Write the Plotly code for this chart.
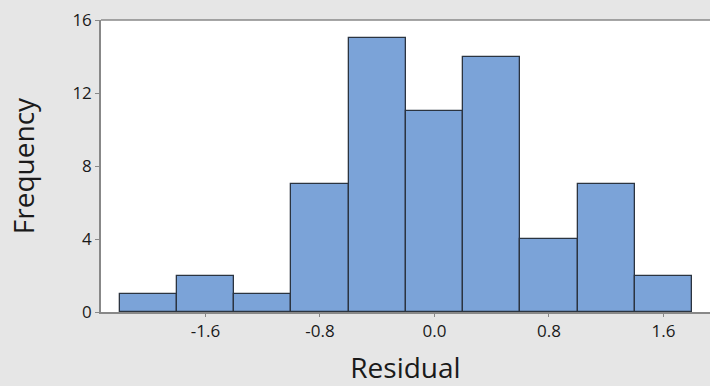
import plotly.graph_objects as go

bin_centers = [-2.0, -1.6, -1.2, -0.8, -0.4, 0.0, 0.4, 0.8, 1.2, 1.6]
counts = [1, 2, 1, 7, 15, 11, 14, 4, 7, 2]
x_tick_vals = [-1.6, -0.8, 0.0, 0.8, 1.6]
x_tick_text = ["-1.6", "-0.8", "0.0", "0.8", "1.6"]
y_tick_vals = [0, 4, 8, 12, 16]
bin_width = 0.4

fig = go.Figure()
fig.add_trace(go.Bar(
    x=bin_centers, y=counts, width=bin_width,
    marker=dict(color="#7BA3D8", line=dict(color="#2B3440", width=1.3)),
    hoverinfo="skip",
))

fig.update_layout(
    width=710, height=386,
    margin=dict(l=101, r=0, t=20, b=74),
    paper_bgcolor="#E6E6E6",
    plot_bgcolor="#FFFFFF",
    font=dict(family="Open Sans, DejaVu Sans, sans-serif", color="#1A1A1A"),
    showlegend=False,
    bargap=0,
    shapes=[dict(type="line", xref="paper", yref="paper", x0=0, x1=1, y0=1, y1=1,
                 line=dict(color="#888888", width=1.5))],
)
fig.update_xaxes(
    range=[-2.33, 1.925],
    tickvals=x_tick_vals, ticktext=x_tick_text,
    ticks="outside", ticklen=3, tickcolor="#888888",
    tickfont=dict(size=17),
    showgrid=False, zeroline=False,
    showline=True, linecolor="#888888", linewidth=1.5,
    title=dict(text="Residual", font=dict(size=28), standoff=18),
)
fig.update_yaxes(
    range=[0, 16],
    tickvals=y_tick_vals,
    ticks="outside", ticklen=4, tickcolor="#888888",
    tickfont=dict(size=17),
    showgrid=False, zeroline=False,
    showline=True, linecolor="#888888", linewidth=1.5,
    title=dict(text="Frequency", font=dict(size=28), standoff=30),
)

fig.write_html(
    "out.html",
    config={"displayModeBar": False},
    post_script="document.body.style.margin='0';document.body.style.overflow='hidden';document.body.style.background='#E6E6E6';",
)
